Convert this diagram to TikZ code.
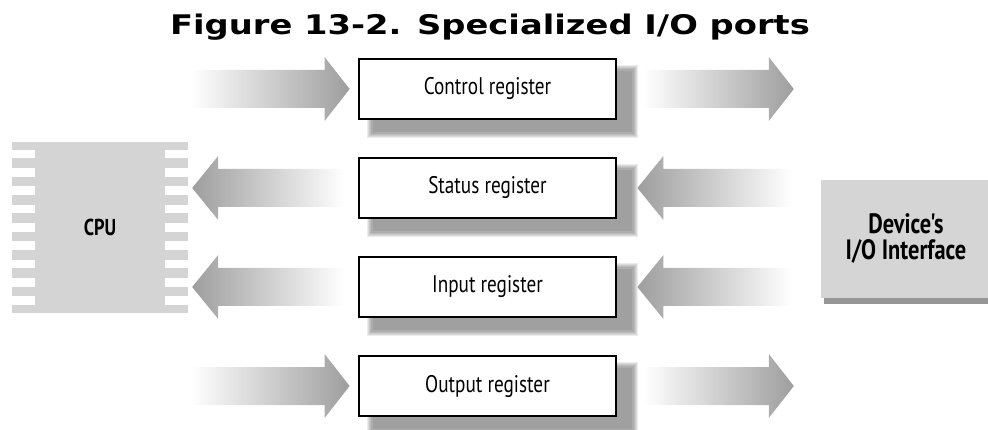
\documentclass[tikz,border=0pt]{standalone}
\usepackage{fontspec}
\usetikzlibrary{calc}
\newfontfamily\condf[FakeStretch=0.8]{PT Sans}
\newfontfamily\condb[FakeStretch=0.8]{PT Sans}
\newfontfamily\titlef[FakeStretch=1.25]{DejaVu Sans}
\definecolor{arrgray}{RGB}{158,158,158}
\definecolor{chipgray}{RGB}{212,212,212}
\definecolor{devgray}{RGB}{213,213,213}
\definecolor{devshadow}{RGB}{150,150,150}
\pgfdeclarelayer{bg}\pgfsetlayers{bg,main}
\newcommand{\rgtarrow}[2]{%
  \shade[left color=white, right color=arrgray] let \p1=(#1), \p2=(#2) in
   (\x1,\y1+19pt) -- (\x2-25pt,\y1+19pt) -- (\x2-25pt,\y1+32pt) -- (\x2,\y1)
   -- (\x2-25pt,\y1-32pt) -- (\x2-25pt,\y1-19pt) -- (\x1,\y1-19pt) -- cycle;}
\newcommand{\lftarrow}[2]{%
  \shade[left color=arrgray, right color=white] let \p1=(#1), \p2=(#2) in
   (\x1,\y1) -- (\x1+26pt,\y1+32pt) -- (\x1+26pt,\y1+19pt) -- (\x2,\y1+19pt)
   -- (\x2,\y1-19pt) -- (\x1+26pt,\y1-19pt) -- (\x1+26pt,\y1-32pt) -- cycle;}
\newcommand{\regshadow}[1]{%
  \begin{pgfonlayer}{bg}
  \foreach \e in {3,1.8,0.6,-0.6,-1.8,-3}{
    \fill[black,opacity=0.075] ($(#1.north west)+(12-\e,10-\e)$) rectangle ($(#1.south east)+(18+\e,15+\e)$);}
  \end{pgfonlayer}}
\tikzset{
  regbox/.style={draw=black, line width=2.8pt, fill=white, minimum width=257, minimum height=60,
    inner sep=0pt, font=\condf\fontsize{24}{28}\selectfont},
  chip/.style={fill=chipgray, minimum width=176, minimum height=171, inner sep=0pt},
  device/.style={fill=devgray, minimum width=170, minimum height=118, inner sep=0pt, align=center,
    font=\condb\bfseries\fontsize{28}{26}\selectfont},
  pin/.style={fill=white}
}
\begin{document}
\begin{tikzpicture}[x=1pt,y=-1pt]
\useasboundingbox (0,0) rectangle (988,430);
\node[font=\titlef\bfseries\fontsize{27}{30}\selectfont, anchor=base] (title) at (490,35) {Figure 13-2. Specialized I/O ports};
% CPU
\node[chip] (cpu) at (100,227.5) {};
\foreach \i in {0,...,8}{
  \fill[pin] ($(cpu.north west)+(0,8+18.33*\i)$) rectangle ++(23,8.5);
  \fill[pin] ($(cpu.north east)+(-23,8+18.33*\i)$) rectangle ++(23,8.5);
}
\node[font=\condb\bfseries\fontsize{23}{24}\selectfont] (cputxt) at (cpu.center) {CPU};
% device
\node[device] (dev) at (906,239) {Device's\\I/O Interface};
\fill[devshadow] ($(dev.south west)+(3,0)$) rectangle ($(dev.south east)+(5,6)$);
% registers
\node[regbox] (ctrl) at (487.5,89) {Control register};
\node[regbox] (stat) at (487.5,188) {Status register};
\node[regbox] (inp) at (487.5,287) {Input register};
\node[regbox] (outp) at (487.5,386) {Output register};
\regshadow{ctrl}\regshadow{stat}\regshadow{inp}\regshadow{outp}
% arrows
\rgtarrow{$(cpu.east |- ctrl.west)+(2,0)$}{$(ctrl.west)+(-8,0)$}
\rgtarrow{$(ctrl.east)+(26,0)$}{$(dev.west |- ctrl.east)+(-27,0)$}
\lftarrow{$(cpu.east |- stat.west)+(4,0)$}{$(stat.west)+(-13,0)$}
\lftarrow{$(stat.east)+(20,0)$}{$(dev.west |- stat.east)+(-29,0)$}
\lftarrow{$(cpu.east |- inp.west)+(4,0)$}{$(inp.west)+(-13,0)$}
\lftarrow{$(inp.east)+(20,0)$}{$(dev.west |- inp.east)+(-29,0)$}
\rgtarrow{$(cpu.east |- outp.west)+(2,0)$}{$(outp.west)+(-8,0)$}
\rgtarrow{$(outp.east)+(26,0)$}{$(dev.west |- outp.east)+(-27,0)$}
\end{tikzpicture}
\end{document}
